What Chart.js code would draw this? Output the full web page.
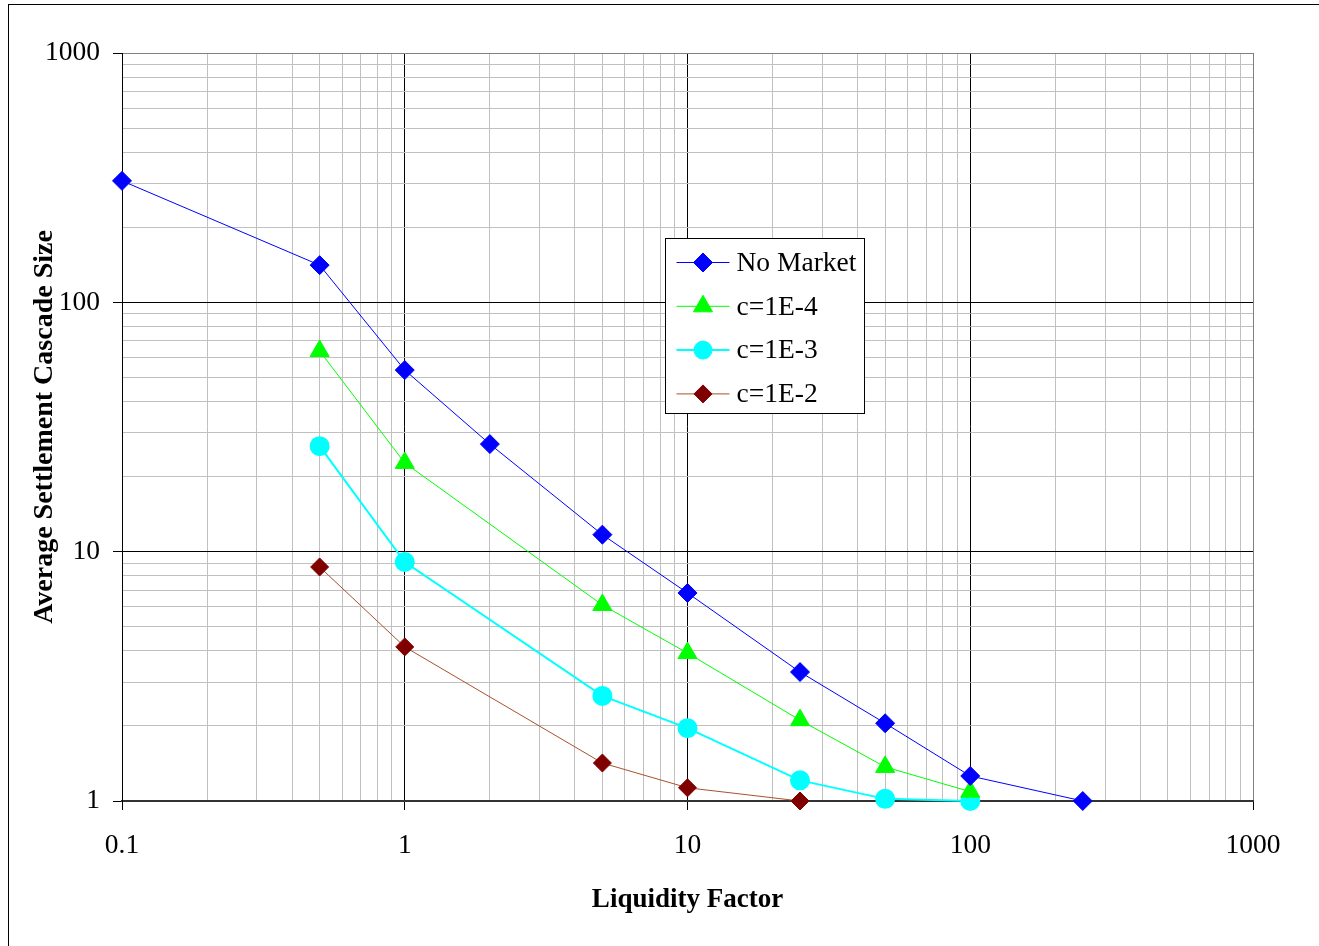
<!DOCTYPE html>
<html>
<head>
<meta charset="utf-8">
<script src="https://cdn.jsdelivr.net/npm/chart.js@4.4.1/dist/chart.umd.min.js"></script>
<style>
  body { margin: 0; background: #fff; }
  #wrap { width: 1319px; height: 946px; position: relative; }
</style>
</head>
<body>
<div id="wrap"><canvas id="myChart" width="1319" height="946"></canvas></div>
<script>
// liquidity factor (x) and cascade size (y) for each series
const xNoMarket = [0.1, 0.5, 1, 2, 5, 10, 25, 50, 100, 250];
const noMarket = [307, 141, 53.5, 27.0, 11.7, 6.83, 3.29, 2.05, 1.26, 1.0];
const xC4 = [0.5, 1, 5, 10, 25, 50, 100];
const c4 = [63.8, 22.7, 6.11, 3.92, 2.11, 1.37, 1.09];
const xC3 = [0.5, 1, 5, 10, 25, 50, 100];
const c3 = [26.5, 9.09, 2.64, 1.96, 1.21, 1.02, 1.0];
const xC2 = [0.5, 1, 5, 10, 25];
const c2 = [8.68, 4.15, 1.42, 1.13, 1.0];

const xDecades = [0.1, 1, 10, 100, 1000];
const yDecades = [1, 10, 100, 1000];

const FONT = "'Liberation Serif', 'Times New Roman', serif";

function toPoints(xs, ys) {
    return xs.map((x, i) => ({ x: x, y: ys[i] }));
}

function isDecade(v) {
    const l = Math.log10(v);
    return Math.abs(l - Math.round(l)) < 1e-9;
}

// 1..9 in every decade, for the minor grid
function logTicks(decades) {
    const ticks = [];
    decades.forEach((d, i) => {
        if (i === decades.length - 1) {
            ticks.push({ value: d });
            return;
        }
        for (let k = 1; k < 10; k++) {
            ticks.push({ value: d * k });
        }
    });
    return ticks;
}

function gridColor(ctx) {
    if (!ctx.tick) return '#c0c0c0';
    const v = ctx.tick.value;
    if (Math.abs(v - ctx.scale.max) < 1e-9) return '#808080';
    return isDecade(v) ? '#000000' : '#c0c0c0';
}

function tickColor(ctx) {
    if (!ctx.tick) return 'rgba(0,0,0,0)';
    return isDecade(ctx.tick.value) ? '#000000' : 'rgba(0,0,0,0)';
}

function drawMarker(c, style, x, y, r, fill, stroke) {
    c.save();
    c.fillStyle = fill;
    c.strokeStyle = stroke;
    c.lineWidth = 1;
    c.beginPath();
    if (style === 'rectRot') {
        c.moveTo(x - r, y);
        c.lineTo(x, y - r);
        c.lineTo(x + r, y);
        c.lineTo(x, y + r);
        c.closePath();
    } else if (style === 'triangle') {
        c.moveTo(x, y - r);
        c.lineTo(x + r * Math.sin(Math.PI * 2 / 3), y - r * Math.cos(Math.PI * 2 / 3));
        c.lineTo(x + r * Math.sin(Math.PI * 4 / 3), y - r * Math.cos(Math.PI * 4 / 3));
        c.closePath();
    } else {
        c.arc(x, y, r, 0, Math.PI * 2);
    }
    c.fill();
    c.stroke();
    c.restore();
}

// outer frame of the figure
const framePlugin = {
    id: 'frame',
    beforeDraw(chart) {
        const c = chart.ctx;
        c.save();
        c.fillStyle = '#fff';
        c.fillRect(0, 0, chart.width, chart.height);
        c.strokeStyle = '#000';
        c.lineWidth = 1;
        c.strokeRect(8.5, 4.5, chart.width + 20, chart.height + 20);
        c.restore();
    }
};

// boxed legend inside the plot, line through the marker like Excel
const boxLegend = {
    id: 'boxLegend',
    afterDraw(chart) {
        const c = chart.ctx;
        const area = chart.chartArea;
        const bx = area.left + 543.5;
        const by = area.top + 185.5;
        const bw = 199;
        const bh = 175;
        c.save();
        c.fillStyle = '#fff';
        c.fillRect(bx, by, bw, bh);
        c.strokeStyle = '#000';
        c.lineWidth = 1;
        c.strokeRect(bx, by, bw, bh);

        chart.data.datasets.forEach((ds, i) => {
            const rowY = by + 24 + i * 43.8;
            const lx = bx + 11;
            c.strokeStyle = ds.borderColor;
            c.lineWidth = ds.borderWidth;
            c.beginPath();
            c.moveTo(lx, rowY);
            c.lineTo(lx + 53, rowY);
            c.stroke();
            drawMarker(c, ds.pointStyle, lx + 26.5, rowY, ds.pointRadius,
                ds.pointBackgroundColor, ds.pointBorderColor);
            c.fillStyle = '#000';
            c.font = '27.5px ' + FONT;
            c.textAlign = 'left';
            c.textBaseline = 'middle';
            c.fillText(ds.label, lx + 60, rowY + 1);
        });
        c.restore();
    }
};

const data = {
    datasets: [
        {
            label: 'No Market',
            data: toPoints(xNoMarket, noMarket),
            borderColor: '#0000ff',
            borderWidth: 1,
            pointStyle: 'rectRot',
            pointRadius: 9.5,
            pointBackgroundColor: '#0000ff',
            pointBorderColor: '#0000ff',
            clip: false
        },
        {
            label: 'c=1E-4',
            data: toPoints(xC4, c4),
            borderColor: '#00ff00',
            borderWidth: 1,
            pointStyle: 'triangle',
            pointRadius: 11,
            pointBackgroundColor: '#00ff00',
            pointBorderColor: '#00ff00',
            clip: false
        },
        {
            label: 'c=1E-3',
            data: toPoints(xC3, c3),
            borderColor: '#00ffff',
            borderWidth: 2,
            pointStyle: 'circle',
            pointRadius: 9,
            pointBackgroundColor: '#00ffff',
            pointBorderColor: '#00ffff',
            clip: false
        },
        {
            label: 'c=1E-2',
            data: toPoints(xC2, c2),
            borderColor: '#a9522d',
            borderWidth: 1,
            pointStyle: 'rectRot',
            pointRadius: 9,
            pointBackgroundColor: '#800000',
            pointBorderColor: '#800000',
            clip: false
        }
    ]
};

const config = {
    type: 'line',
    data: data,
    options: {
        responsive: false,
        animation: false,
        events: [],
        layout: { padding: { top: 53, right: 66, left: 0, bottom: 0 } },
        plugins: {
            legend: { display: false },
            tooltip: { enabled: false }
        },
        elements: { line: { tension: 0 } },
        scales: {
            x: {
                type: 'logarithmic',
                min: 0.1,
                max: 1000,
                afterBuildTicks: scale => { scale.ticks = logTicks(xDecades); },
                afterFit: scale => { scale.height = 145; },
                grid: { color: gridColor, tickColor: tickColor, tickLength: 9, lineWidth: 1 },
                border: { color: '#333', width: 2 },
                ticks: {
                    autoSkip: false,
                    maxRotation: 0,
                    padding: 19,
                    color: '#000',
                    font: { family: FONT, size: 27.5 },
                    callback: v => isDecade(v) ? String(xDecades.find(d => Math.abs(d - v) < 1e-9) ?? v) : ''
                },
                title: {
                    display: true,
                    text: 'Liquidity Factor',
                    color: '#000',
                    font: { family: FONT, size: 27, weight: 'bold' },
                    padding: { top: 0, bottom: 30 }
                }
            },
            y: {
                type: 'logarithmic',
                min: 1,
                max: 1000,
                afterBuildTicks: scale => { scale.ticks = logTicks(yDecades); },
                afterFit: scale => { scale.width = 122; },
                grid: { color: gridColor, tickColor: tickColor, tickLength: 9, lineWidth: 1 },
                border: { color: '#000', width: 1 },
                ticks: {
                    autoSkip: false,
                    padding: 13,
                    color: '#000',
                    font: { family: FONT, size: 27.5 },
                    callback: v => isDecade(v) ? String(yDecades.find(d => Math.abs(d - v) < 1e-9) ?? v) : ''
                },
                title: {
                    display: true,
                    text: 'Average Settlement Cascade Size',
                    color: '#000',
                    font: { family: FONT, size: 28, weight: 'bold' },
                    padding: { top: 28, bottom: 0 }
                }
            }
        }
    },
    plugins: [framePlugin, boxLegend]
};

const myChart = new Chart('myChart', config);
</script>
</body>
</html>
